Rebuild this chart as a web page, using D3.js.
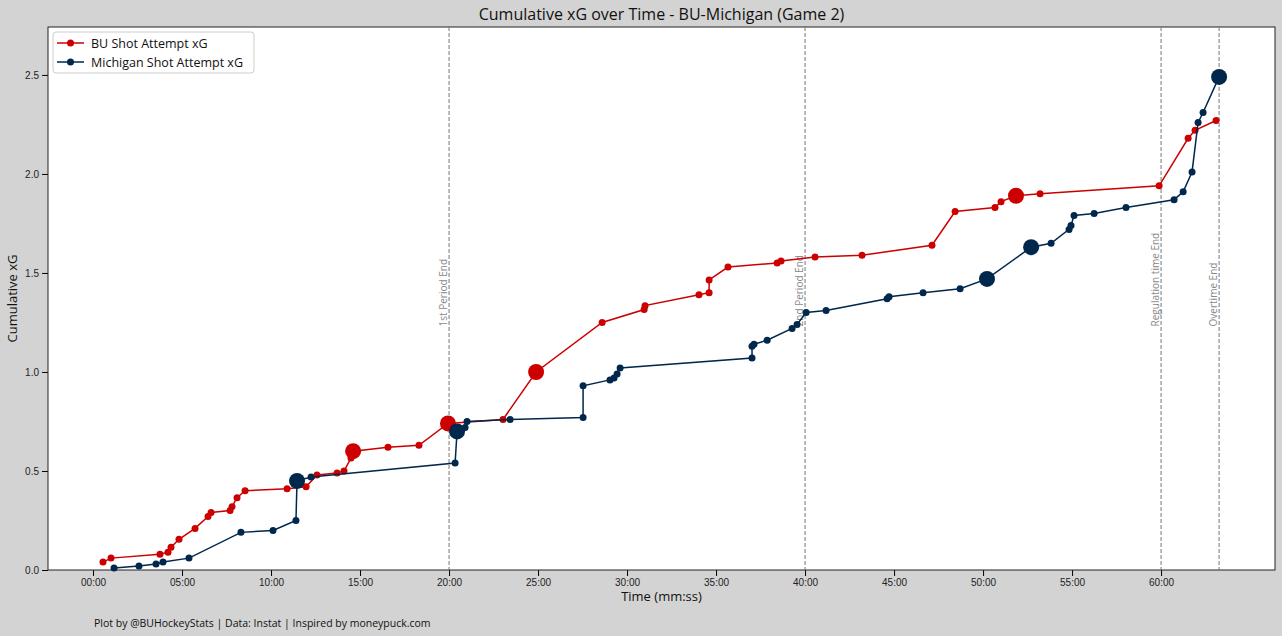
<!DOCTYPE html>
<html>
<head>
<script src="https://d3js.org/d3.v7.min.js"></script>
<style>
  body { margin: 0; background: #d3d3d3; font-family: "Open Sans", Roboto, sans-serif; }
</style>
</head>
<body>
<svg id="chart"></svg>
<script>
// shot times in minutes, cumulative xG, goal flag
const buTimes = [0.56,1.01,3.76,4.21,4.38,4.83,5.73,6.46,6.63,7.70,7.81,8.09,8.54,10.90,11.97,12.58,13.71,14.10,14.49,14.61,16.57,18.31,19.94,23.03,24.89,28.60,30.96,31.01,34.04,34.61,34.61,35.67,38.43,38.65,40.56,43.20,47.13,48.43,50.67,51.01,51.85,53.20,59.89,61.52,61.91,63.09];
const buXg = [0.04,0.06,0.08,0.09,0.115,0.155,0.21,0.27,0.29,0.30,0.32,0.365,0.40,0.41,0.42,0.48,0.49,0.50,0.565,0.60,0.62,0.63,0.74,0.76,1.00,1.25,1.315,1.335,1.39,1.40,1.465,1.53,1.55,1.56,1.58,1.59,1.64,1.81,1.83,1.86,1.89,1.90,1.94,2.18,2.22,2.27];
const buGoals = [0,0,0,0,0,0,0,0,0,0,0,0,0,0,0,0,0,0,0,1,0,0,1,0,1,0,0,0,0,0,0,0,0,0,0,0,0,0,0,0,1,0,0,0,0,0];

const umTimes = [1.18,2.58,3.54,3.93,5.39,8.31,10.11,11.40,11.46,12.25,20.34,20.45,20.90,21.01,23.43,27.53,27.53,29.04,29.27,29.44,29.61,37.02,37.02,37.13,37.87,39.27,39.55,40.06,41.18,44.61,44.72,46.63,48.71,50.22,52.70,53.82,54.83,54.94,55.11,56.24,58.03,60.73,61.24,61.74,62.08,62.36,63.26];
const umXg = [0.01,0.02,0.03,0.04,0.06,0.19,0.20,0.25,0.45,0.47,0.54,0.70,0.72,0.75,0.76,0.77,0.93,0.96,0.97,0.99,1.02,1.07,1.13,1.14,1.16,1.22,1.24,1.30,1.31,1.37,1.38,1.40,1.42,1.47,1.63,1.65,1.72,1.74,1.79,1.80,1.83,1.87,1.91,2.01,2.26,2.31,2.49];
const umGoals = [0,0,0,0,0,0,0,0,1,0,0,1,0,0,0,0,0,0,0,0,0,0,0,0,0,0,0,0,0,0,0,0,0,1,1,0,0,0,0,0,0,0,0,0,0,0,1];

const periodTimes = [20, 40, 60, 63.26];
const periodLabels = ["1st Period End", "2nd Period End", "Regulation time End", "Overtime End"];
const yTicks = [0, 0.5, 1.0, 1.5, 2.0, 2.5];
const xTicks = [0,5,10,15,20,25,30,35,40,45,50,55,60];

const W = 1282, H = 636;
const m = {left: 48, right: 7, top: 27, bottom: 66};
const svg = d3.select("#chart").attr("width", W).attr("height", H);

const x = d3.scaleLinear().domain([-2.53, 66.4]).range([m.left, W - m.right]);
const y = d3.scaleLinear().domain([0, 2.742]).range([H - m.bottom, m.top]);

svg.append("rect").attr("x", m.left).attr("y", m.top)
  .attr("width", W - m.right - m.left).attr("height", H - m.bottom - m.top)
  .attr("fill", "#fff");

const fmt = t => String(Math.floor(t)).padStart(2, "0") + ":00";
const xAx = svg.append("g").attr("transform", `translate(0,${H - m.bottom})`)
  .call(d3.axisBottom(x).tickValues(xTicks).tickFormat(fmt).tickSizeOuter(0));
const yAx = svg.append("g").attr("transform", `translate(${m.left},0)`)
  .call(d3.axisLeft(y).tickValues(yTicks).tickFormat(d3.format(".1f")).tickSizeOuter(0));
[xAx, yAx].forEach(a => {
  a.selectAll("text").style("font-size", "10px").attr("fill", "#222");
  a.select(".domain").remove();
});

// frame
svg.append("rect").attr("x", m.left).attr("y", m.top)
  .attr("width", W - m.right - m.left).attr("height", H - m.bottom - m.top)
  .attr("fill", "none").attr("stroke", "#222").attr("stroke-width", 1);

// period lines
periodTimes.forEach((t, i) => {
  svg.append("line").attr("x1", x(t)).attr("x2", x(t))
    .attr("y1", m.top).attr("y2", H - m.bottom)
    .attr("stroke", "#777").attr("stroke-dasharray", "4,2").attr("stroke-width", 1);
  svg.append("text")
    .attr("transform", `translate(${x(t) - 2},${y(1.23)}) rotate(-90)`)
    .attr("fill", "#888").style("font-size", "10px")
    .text(periodLabels[i]);
});

function drawSeries(times, xg, goals, color) {
  const pts = times.map((t, i) => ({t, v: xg[i], g: goals[i]}));
  svg.append("path").datum(pts)
    .attr("fill", "none").attr("stroke", color).attr("stroke-width", 1.5)
    .attr("d", d3.line().x(d => x(d.t)).y(d => y(d.v)));
  svg.append("g").selectAll("circle").data(pts).join("circle")
    .attr("cx", d => x(d.t)).attr("cy", d => y(d.v))
    .attr("r", d => d.g ? 8 : 3.5).attr("fill", color);
}
drawSeries(buTimes, buXg, buGoals, "#cc0000");
drawSeries(umTimes, umXg, umGoals, "#00274c");

// legend
const lg = svg.append("g");
lg.append("rect").attr("x", 53).attr("y", 32).attr("width", 201).attr("height", 41)
  .attr("rx", 3).attr("fill", "#fff").attr("stroke", "#ccc");
[["BU Shot Attempt xG", "#cc0000"], ["Michigan Shot Attempt xG", "#00274c"]].forEach((d, i) => {
  const yy = 43 + i * 19;
  lg.append("line").attr("x1", 57).attr("x2", 84).attr("y1", yy).attr("y2", yy)
    .attr("stroke", d[1]).attr("stroke-width", 1.5);
  lg.append("circle").attr("cx", 70.5).attr("cy", yy).attr("r", 3.5).attr("fill", d[1]);
  lg.append("text").attr("x", 91).attr("y", yy + 4.5).style("font-size", "12.5px")
    .attr("fill", "#111").text(d[0]);
});

svg.append("text").attr("x", (m.left + W - m.right) / 2).attr("y", 20)
  .attr("text-anchor", "middle").style("font-size", "16px").attr("fill", "#111")
  .text("Cumulative xG over Time - BU-Michigan (Game 2)");
svg.append("text").attr("x", (m.left + W - m.right) / 2).attr("y", 601)
  .attr("text-anchor", "middle").style("font-size", "13px").attr("fill", "#111")
  .text("Time (mm:ss)");
svg.append("text").attr("transform", `translate(17,${(m.top + H - m.bottom) / 2}) rotate(-90)`)
  .attr("text-anchor", "middle").style("font-size", "13px").attr("fill", "#111")
  .text("Cumulative xG");
svg.append("text").attr("x", 94).attr("y", 627).style("font-size", "10.5px").attr("fill", "#111")
  .text("Plot by @BUHockeyStats | Data: Instat | Inspired by moneypuck.com");
</script>
</body>
</html>
